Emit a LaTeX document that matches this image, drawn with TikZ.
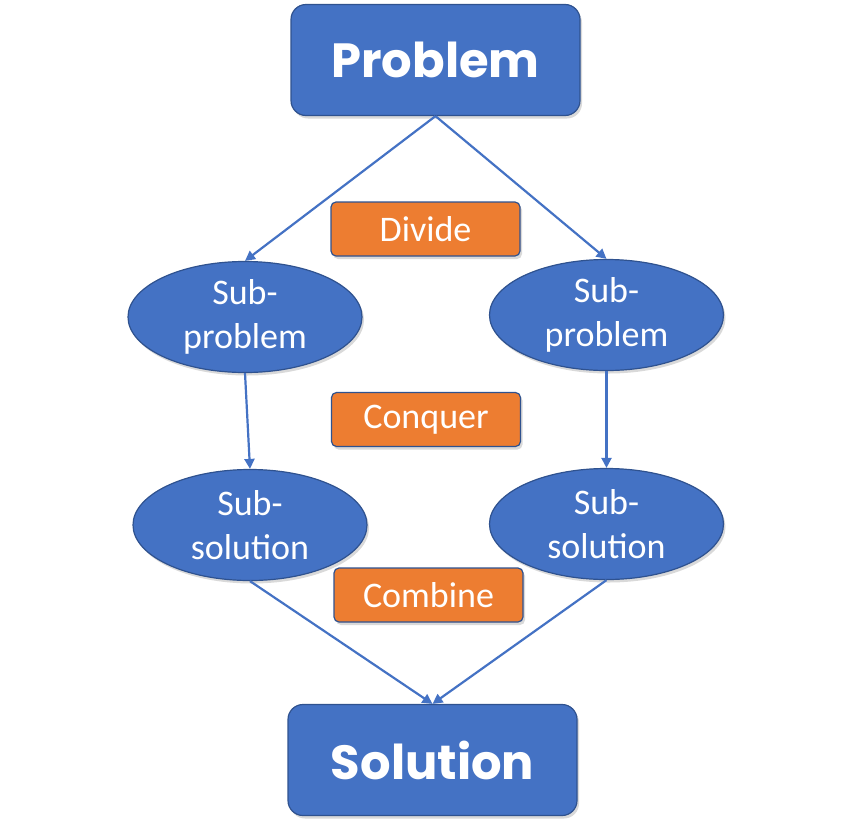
\documentclass[tikz,border=0pt]{standalone}
\usepackage{fontspec}
\setmainfont{Carlito}
\newfontfamily\headfont{Poppins}
\usetikzlibrary{shapes.geometric,arrows.meta,shadows}
\definecolor{boxblue}{HTML}{4472C4}
\definecolor{edgeblue}{HTML}{2F528F}
\definecolor{boxorange}{HTML}{ED7D31}
\begin{document}
\begin{tikzpicture}[x=1pt,y=-1pt,
  shade/.style={drop shadow={shadow xshift=2pt,shadow yshift=-3pt,opacity=0.25,fill=black!60}},
  bigbox/.style={rectangle,rounded corners=15pt,fill=boxblue,draw=edgeblue,line width=1.2pt,
    minimum width=289pt,minimum height=111pt,text=white,font=\headfont\bfseries\fontsize{48}{52}\selectfont,shade},
  subell/.style={ellipse,fill=boxblue,draw=edgeblue,line width=1.2pt,minimum width=234pt,minimum height=111pt,
    inner sep=0pt,text=white,align=center,font=\fontsize{36}{44}\selectfont,shade},
  tag/.style={rectangle,rounded corners=5pt,fill=boxorange,draw=edgeblue,line width=1.2pt,
    minimum width=189pt,minimum height=54pt,text=white,font=\fontsize{36}{40}\selectfont,shade},
  conn/.style={draw=boxblue,line width=2.2pt,-{Triangle[length=10pt,width=10pt]}}]
\useasboundingbox (0,0) rectangle (862,833);
\node[bigbox] (prob) at (435.5,60) {Problem};
\node[bigbox] (sol) at (432.5,760) {Solution};
\node[subell] (spl) at (245,317) {Sub-\\problem};
\node[subell] (spr) at (606.5,315) {Sub-\\problem};
\node[subell] (ssl) at (250,525) {Sub-\\solution};
\node[subell] (ssr) at (606.5,524) {Sub-\\solution};
\node[tag] (div) at (425.5,229) {Divide};
\node[tag] (con) at (426,419.5) {Conquer};
\node[tag] (com) at (428.5,595) {Combine};
\draw[conn] (prob.south) -- (spl.north);
\draw[conn] (prob.south) -- (spr.north);
\draw[conn] (spl.south) -- (ssl.north);
\draw[conn] (spr.south) -- (ssr.north);
\draw[conn] (ssl.south) -- (sol.north);
\draw[conn] (ssr.south) -- (sol.north);
\end{tikzpicture}
\end{document}
